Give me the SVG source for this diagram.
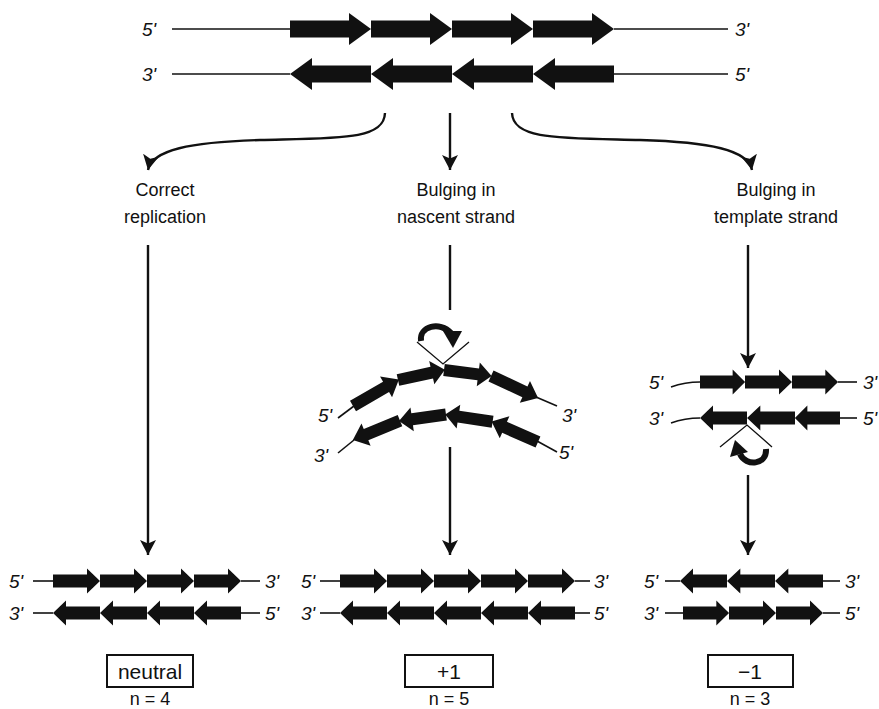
<svg xmlns="http://www.w3.org/2000/svg" xmlns:xlink="http://www.w3.org/1999/xlink" width="879" height="709" viewBox="0 0 879 709">
<style>
.bg{fill:#fff}
.ln{fill:none;stroke:#111;stroke-width:1.6}
.cn{fill:none;stroke:#111;stroke-width:2.4}
.vl{fill:none;stroke:#111;stroke-width:1.3}
.ar{fill:#111}
.end{font-family:"Liberation Sans",Arial,sans-serif;font-style:italic;font-size:19px;fill:#111}
.lbl{font-family:"Liberation Sans",Arial,sans-serif;font-size:18px;fill:#111;text-anchor:middle}
.bx{font-family:"Liberation Sans",Arial,sans-serif;font-size:21px;fill:#111;text-anchor:middle}
.box{fill:#fff;stroke:#111;stroke-width:2}
.curl{fill:none;stroke:#111;stroke-width:6;stroke-linecap:butt}
</style>
<defs>
<path id="tA" d="M0,-8.5 H59 V-16 L81,0 L59,16 V8.5 H0 Z"/>
<path id="sA" d="M0,-6.5 H34 V-12.5 L47,0 L34,12.5 V6.5 H0 Z"/>
<path id="mA" d="M0,-6 H36 V-12 L50,0 L36,12 V6 H0 Z"/>
<marker id="ah" markerUnits="userSpaceOnUse" markerWidth="16" markerHeight="16" refX="15" refY="8" orient="auto">
<path d="M0,0 L15,8 L0,16 L3.5,8 Z" fill="#111"/>
</marker>
</defs>
<rect class="bg" x="0" y="0" width="879" height="709"/>

<g id="top-duplex">
<text class="end" x="142" y="36">5'</text>
<line class="ln" x1="172" y1="29" x2="290" y2="29"/>
<g class="ar">
<use xlink:href="#tA" transform="translate(290,29)"/>
<use xlink:href="#tA" transform="translate(371,29)"/>
<use xlink:href="#tA" transform="translate(452,29)"/>
<use xlink:href="#tA" transform="translate(533,29)"/>
</g>
<line class="ln" x1="614" y1="29" x2="728" y2="29"/>
<text class="end" x="735" y="36">3'</text>
<text class="end" x="142" y="81">3'</text>
<line class="ln" x1="172" y1="74" x2="290" y2="74"/>
<g class="ar">
<use xlink:href="#tA" transform="translate(371,74) scale(-1,1)"/>
<use xlink:href="#tA" transform="translate(452,74) scale(-1,1)"/>
<use xlink:href="#tA" transform="translate(533,74) scale(-1,1)"/>
<use xlink:href="#tA" transform="translate(614,74) scale(-1,1)"/>
</g>
<line class="ln" x1="614" y1="74" x2="728" y2="74"/>
<text class="end" x="735" y="81">5'</text>
</g>

<g id="label-correct">
<text class="lbl" x="165" y="196">Correct</text>
<text class="lbl" x="165" y="223">replication</text>
</g>
<g id="label-nascent">
<text class="lbl" x="456" y="196">Bulging in</text>
<text class="lbl" x="456" y="223">nascent strand</text>
</g>
<g id="label-template">
<text class="lbl" x="776" y="196">Bulging in</text>
<text class="lbl" x="776" y="223">template strand</text>
</g>

<g id="bulge-nascent">
<polyline class="vl" points="417,342 443,364 469,342"/>
<path class="curl" d="M421,341 C419,326 440,321 451,333"/>
<polygon class="ar" points="443,331 462,331 453,348"/>
<text class="end" x="318" y="422">5'</text>
<line class="ln" x1="338" y1="418" x2="354" y2="406"/>
<g class="ar">
<use xlink:href="#mA" transform="translate(353,406) rotate(-30) scale(1.06,1)"/>
<use xlink:href="#mA" transform="translate(398,380) rotate(-12.3) scale(0.96,1)"/>
<use xlink:href="#mA" transform="translate(444,370) rotate(7.3) scale(0.96,1)"/>
<use xlink:href="#mA" transform="translate(491,376) rotate(25.1) scale(1.04,1)"/>
</g>
<line class="ln" x1="536" y1="397" x2="557" y2="406"/>
<text class="end" x="562" y="422">3'</text>
<text class="end" x="314" y="462">3'</text>
<line class="ln" x1="338" y1="453" x2="354" y2="440"/>
<g class="ar">
<use xlink:href="#mA" transform="translate(400,420.6) rotate(157.6) scale(1.02,1)"/>
<use xlink:href="#mA" transform="translate(446,414.5) rotate(172) scale(0.95,1)"/>
<use xlink:href="#mA" transform="translate(492.6,421.8) rotate(188.7) scale(0.96,1)"/>
<use xlink:href="#mA" transform="translate(538,442) rotate(203.7) scale(1.014,1)"/>
</g>
<line class="ln" x1="537" y1="441" x2="557" y2="452"/>
<text class="end" x="559" y="459">5'</text>
</g>

<g id="bulge-template">
<text class="end" x="649" y="389">5'</text>
<path class="ln" d="M671,387 Q685,382 700,382"/>
<g class="ar">
<use xlink:href="#sA" transform="translate(700,382) scale(0.96,1)"/>
<use xlink:href="#sA" transform="translate(745,382)"/>
<use xlink:href="#sA" transform="translate(792,382) scale(0.98,1)"/>
</g>
<line class="ln" x1="838" y1="382" x2="857" y2="382"/>
<text class="end" x="863" y="389">3'</text>
<text class="end" x="649" y="425">3'</text>
<path class="ln" d="M671,423 Q685,418 700,418"/>
<g class="ar">
<use xlink:href="#sA" transform="translate(747,418) scale(-1,1)"/>
<use xlink:href="#sA" transform="translate(795,418) scale(-1.02,1)"/>
<use xlink:href="#sA" transform="translate(840,418) scale(-0.96,1)"/>
</g>
<line class="ln" x1="840" y1="418" x2="857" y2="418"/>
<text class="end" x="863" y="425">5'</text>
<polyline class="vl" points="720,447 747,425 772,447"/>
<path class="curl" d="M766,449 C767,465 746,467 740,454"/>
<polygon class="ar" points="730,457 748,452 735,440"/>
</g>

<g id="result-neutral">
<text class="end" x="9" y="588">5'</text>
<line class="ln" x1="33" y1="581" x2="53" y2="581"/>
<g class="ar">
<use xlink:href="#sA" transform="translate(53,581)"/>
<use xlink:href="#sA" transform="translate(100,581)"/>
<use xlink:href="#sA" transform="translate(147,581)"/>
<use xlink:href="#sA" transform="translate(194,581)"/>
</g>
<line class="ln" x1="241" y1="581" x2="260" y2="581"/>
<text class="end" x="265" y="588">3'</text>
<text class="end" x="9" y="620">3'</text>
<line class="ln" x1="33" y1="613" x2="53" y2="613"/>
<g class="ar">
<use xlink:href="#sA" transform="translate(100,613) scale(-1,1)"/>
<use xlink:href="#sA" transform="translate(147,613) scale(-1,1)"/>
<use xlink:href="#sA" transform="translate(194,613) scale(-1,1)"/>
<use xlink:href="#sA" transform="translate(241,613) scale(-1,1)"/>
</g>
<line class="ln" x1="241" y1="613" x2="260" y2="613"/>
<text class="end" x="265" y="620">5'</text>
<rect class="box" x="107" y="655" width="86" height="32"/>
<text class="bx" x="150" y="679">neutral</text>
<text class="lbl" x="150" y="705">n = 4</text>
</g>

<g id="result-plus">
<text class="end" x="301" y="588">5'</text>
<line class="ln" x1="320" y1="581" x2="340" y2="581"/>
<g class="ar">
<use xlink:href="#sA" transform="translate(340,581)"/>
<use xlink:href="#sA" transform="translate(387,581)"/>
<use xlink:href="#sA" transform="translate(434,581)"/>
<use xlink:href="#sA" transform="translate(481,581)"/>
<use xlink:href="#sA" transform="translate(528,581)"/>
</g>
<line class="ln" x1="575" y1="581" x2="590" y2="581"/>
<text class="end" x="594" y="588">3'</text>
<text class="end" x="301" y="620">3'</text>
<line class="ln" x1="320" y1="613" x2="340" y2="613"/>
<g class="ar">
<use xlink:href="#sA" transform="translate(387,613) scale(-1,1)"/>
<use xlink:href="#sA" transform="translate(434,613) scale(-1,1)"/>
<use xlink:href="#sA" transform="translate(481,613) scale(-1,1)"/>
<use xlink:href="#sA" transform="translate(528,613) scale(-1,1)"/>
<use xlink:href="#sA" transform="translate(575,613) scale(-1,1)"/>
</g>
<line class="ln" x1="575" y1="613" x2="590" y2="613"/>
<text class="end" x="594" y="620">5'</text>
<rect class="box" x="405" y="655" width="88" height="32"/>
<text class="bx" x="449" y="679">+1</text>
<text class="lbl" x="449" y="705">n = 5</text>
</g>

<g id="result-minus">
<text class="end" x="644" y="588">5'</text>
<line class="ln" x1="665" y1="581" x2="680" y2="581"/>
<g class="ar">
<use xlink:href="#sA" transform="translate(727,581) scale(-1,1)"/>
<use xlink:href="#sA" transform="translate(775,581) scale(-1.02,1)"/>
<use xlink:href="#sA" transform="translate(823,581) scale(-1.02,1)"/>
</g>
<line class="ln" x1="823" y1="581" x2="840" y2="581"/>
<text class="end" x="845" y="588">3'</text>
<text class="end" x="644" y="620">3'</text>
<line class="ln" x1="665" y1="613" x2="683" y2="613"/>
<g class="ar">
<use xlink:href="#sA" transform="translate(683,613) scale(0.98,1)"/>
<use xlink:href="#sA" transform="translate(729,613)"/>
<use xlink:href="#sA" transform="translate(776,613)"/>
</g>
<line class="ln" x1="823" y1="613" x2="840" y2="613"/>
<text class="end" x="845" y="620">5'</text>
<rect class="box" x="708" y="655" width="85" height="32"/>
<text class="bx" x="750" y="679">−1</text>
<text class="lbl" x="750" y="705">n = 3</text>
</g>

<g id="connectors">
<path class="cn" marker-end="url(#ah)" d="M385,113 C384,140 340,138 260,140 C190,142 152,150 148,170"/>
<path class="cn" marker-end="url(#ah)" d="M450,113 L450,170"/>
<path class="cn" marker-end="url(#ah)" d="M512,113 C513,140 560,138 640,140 C710,142 748,150 752,170"/>
<path class="cn" marker-end="url(#ah)" d="M148,245 L148,555"/>
<path class="cn" d="M450,245 L450,310"/>
<path class="cn" marker-end="url(#ah)" d="M450,447 L450,555"/>
<path class="cn" marker-end="url(#ah)" d="M748,245 L748,368"/>
<path class="cn" marker-end="url(#ah)" d="M748,475 L748,555"/>
</g>
</svg>
